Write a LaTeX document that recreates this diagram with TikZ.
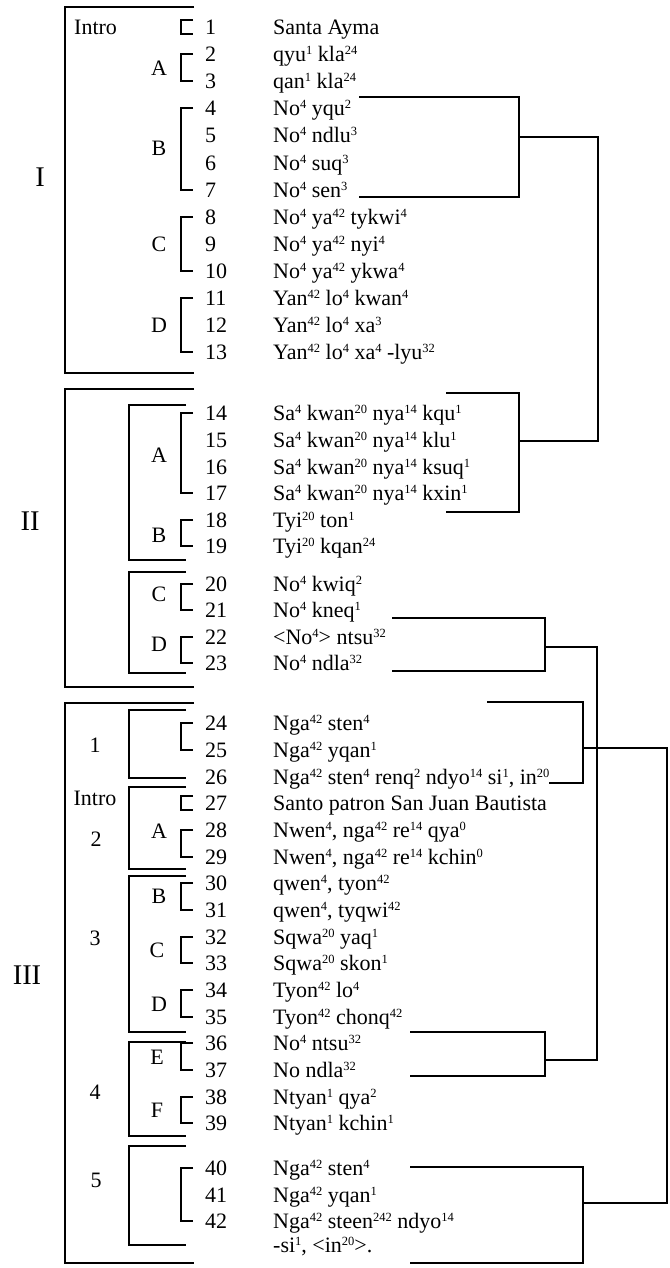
\documentclass[tikz,border=0pt]{standalone}
\usepackage{fontspec}
\setmainfont{Liberation Serif}
% tone number as a small raised figure
\newcommand{\tn}[1]{\raisebox{7pt}{\fontsize{12.5}{12.5}\selectfont #1}}

\begin{document}
\begin{tikzpicture}[
    x=1pt, y=-1pt,
    num/.style={anchor=base west, inner sep=0pt, font=\fontsize{22}{26}\selectfont},
    txt/.style={anchor=base west, inner sep=0pt, font=\fontsize{22}{26}\selectfont},
    lab/.style={inner sep=0pt, font=\fontsize{22}{26}\selectfont},
    roman/.style={inner sep=0pt, font=\fontsize{28.5}{30}\selectfont},
    secbox/.style={line width=1.8pt},
    subbox/.style={line width=1.5pt},
    numbr/.style={line width=2pt},
    conn/.style={line width=1.6pt},
]
\useasboundingbox (0,0) rectangle (669,1268);

% Numbered lines of the text
\foreach \n/\y/\t in {
    1/27/{Santa Ayma}, 2/54/{qyu\tn{1} kla\tn{24}}, 3/81/{qan\tn{1} kla\tn{24}},
    4/108/{No\tn{4} yqu\tn{2}}, 5/135/{No\tn{4} ndlu\tn{3}}, 6/163/{No\tn{4} suq\tn{3}},
    7/190/{No\tn{4} sen\tn{3}}, 8/217/{No\tn{4} ya\tn{42} tykwi\tn{4}},
    9/244/{No\tn{4} ya\tn{42} nyi\tn{4}}, 10/271/{No\tn{4} ya\tn{42} ykwa\tn{4}},
    11/298/{Yan\tn{42} lo\tn{4} kwan\tn{4}}, 12/325/{Yan\tn{42} lo\tn{4} xa\tn{3}},
    13/352/{Yan\tn{42} lo\tn{4} xa\tn{4} -lyu\tn{32}},
    14/413/{Sa\tn{4} kwan\tn{20} nya\tn{14} kqu\tn{1}}, 15/440/{Sa\tn{4} kwan\tn{20} nya\tn{14} klu\tn{1}},
    16/467/{Sa\tn{4} kwan\tn{20} nya\tn{14} ksuq\tn{1}}, 17/493/{Sa\tn{4} kwan\tn{20} nya\tn{14} kxin\tn{1}},
    18/520/{Tyi\tn{20} ton\tn{1}}, 19/546/{Tyi\tn{20} kqan\tn{24}},
    20/584/{No\tn{4} kwiq\tn{2}}, 21/610/{No\tn{4} kneq\tn{1}},
    22/637/{<No\tn{4}> ntsu\tn{32}}, 23/663/{No\tn{4} ndla\tn{32}},
    24/723/{Nga\tn{42} sten\tn{4}}, 25/750/{Nga\tn{42} yqan\tn{1}},
    26/777/{Nga\tn{42} sten\tn{4} renq\tn{2} ndyo\tn{14} si\tn{1}, in\tn{20}},
    27/803/{Santo patron San Juan Bautista},
    28/830/{Nwen\tn{4}, nga\tn{42} re\tn{14} qya\tn{0}}, 29/857/{Nwen\tn{4}, nga\tn{42} re\tn{14} kchin\tn{0}},
    30/883/{qwen\tn{4}, tyon\tn{42}}, 31/910/{qwen\tn{4}, tyqwi\tn{42}},
    32/937/{Sqwa\tn{20} yaq\tn{1}}, 33/963/{Sqwa\tn{20} skon\tn{1}},
    34/990/{Tyon\tn{42} lo\tn{4}}, 35/1017/{Tyon\tn{42} chonq\tn{42}},
    36/1043/{No\tn{4} ntsu\tn{32}}, 37/1070/{No ndla\tn{32}},
    38/1097/{Ntyan\tn{1} qya\tn{2}}, 39/1123/{Ntyan\tn{1} kchin\tn{1}},
    40/1168/{Nga\tn{42} sten\tn{4}}, 41/1195/{Nga\tn{42} yqan\tn{1}},
    42/1221/{Nga\tn{42} steen\tn{242} ndyo\tn{14}}} {
  \node[num] (n\n) at (205,\y+7.5) {\n};
  \node[txt] (t\n) at (273,\y+7.5) {\t};
}
\node[txt] (t43) at (273,1252.5) {-si\tn{1}, <in\tn{20}>.};

% Brackets in front of the line numbers
\foreach \a/\b in {2/3, 4/7, 8/10, 11/13, 14/17, 18/19, 20/21, 22/23, 24/25,
                   28/29, 30/31, 32/33, 34/35, 36/37, 38/39, 40/42}
  \draw[numbr] ([xshift=-12pt]n\a.west) -| ([xshift=-24pt]n\b.west) -- ([xshift=-12pt]n\b.west);
\foreach \a in {1, 27}
  \draw[numbr] ([xshift=-12pt,yshift=7pt]n\a.west) -| ([xshift=-24pt,yshift=-7pt]n\a.west)
      -- ([xshift=-12pt,yshift=-7pt]n\a.west);

% Sections and their parts
\draw[secbox] (194,7) -| (65,373) -- (194,373);
\draw[secbox] (194,389) -| (65,687) -- (194,687);
\draw[secbox] (194,703) -| (65,1263) -- (194,1263);
\draw[subbox] (186,405) -| (129,560) -- (186,560);
\draw[subbox] (186,572) -| (129,673) -- (186,673);
\draw[subbox] (186,710) -| (129,778) -- (186,778);
\draw[subbox] (186,787) -| (129,869) -- (186,869);
\draw[subbox] (186,876) -| (129,1032) -- (186,1032);
\draw[subbox] (186,1042) -| (129,1136) -- (186,1136);
\draw[subbox] (186,1146) -| (129,1245) -- (186,1245);

% Section labels
\node[roman] (secI) at (40,177) {I};
\node[roman] (secII) at (30,521) {II};
\node[roman] (secIII) at (27,975) {III};
\node[lab, anchor=west] (introI) at (74,27) {Intro};
\node[lab] (IA) at (159,68) {A};
\node[lab] (IB) at (159,148) {B};
\node[lab] (IC) at (159,244) {C};
\node[lab] (ID) at (159,325) {D};
\node[lab] (IIA) at (159,455) {A};
\node[lab] (IIB) at (159,535) {B};
\node[lab] (IIC) at (159,594) {C};
\node[lab] (IID) at (159,644) {D};
\node[lab] (III1) at (95,745) {1};
\node[lab] (introIII) at (95,798) {Intro};
\node[lab] (III2) at (96,839) {2};
\node[lab] (III3) at (95,938) {3};
\node[lab] (III4) at (95,1092) {4};
\node[lab] (III5) at (96,1180) {5};
\node[lab] (IIIA) at (159,831) {A};
\node[lab] (IIIB) at (159,896) {B};
\node[lab] (IIIC) at (157,950) {C};
\node[lab] (IIID) at (159,1004) {D};
\node[lab] (IIIE) at (157,1057) {E};
\node[lab] (IIIF) at (157,1110) {F};

% Links between parallel passages (right side)
\coordinate (yqu) at (359,97);   \coordinate (sen) at (359,197);
\coordinate (kqu) at (446,393);  \coordinate (kxin) at (446,512);
\coordinate (kneq) at (392,618); \coordinate (ndlaII) at (392,671);
\coordinate (ntsu) at (410,1032); \coordinate (ndlaIII) at (410,1076);
\coordinate (stenA) at (487,702); \coordinate (inA) at (549,783);
\coordinate (stenB) at (410,1167); \coordinate (inB) at (410,1263);
\draw[conn] (yqu) -| (519,197) -- (sen);
\draw[conn] (kqu) -| (519,512) -- (kxin);
\draw[conn] (519,137) -| (598,441) -- (519,441);
\draw[conn] (kneq) -| (545,671) -- (ndlaII);
\draw[conn] (ntsu) -| (545,1076) -- (ndlaIII);
\draw[conn] (545,647) -| (597,1060) -- (545,1060);
\draw[conn] (stenA) -| (583,783) -- (inA);
\draw[conn] (stenB) -| (583,1263) -- (inB);
\draw[conn] (583,748) -| (667,1203) -- (583,1203);
\end{tikzpicture}
\end{document}
